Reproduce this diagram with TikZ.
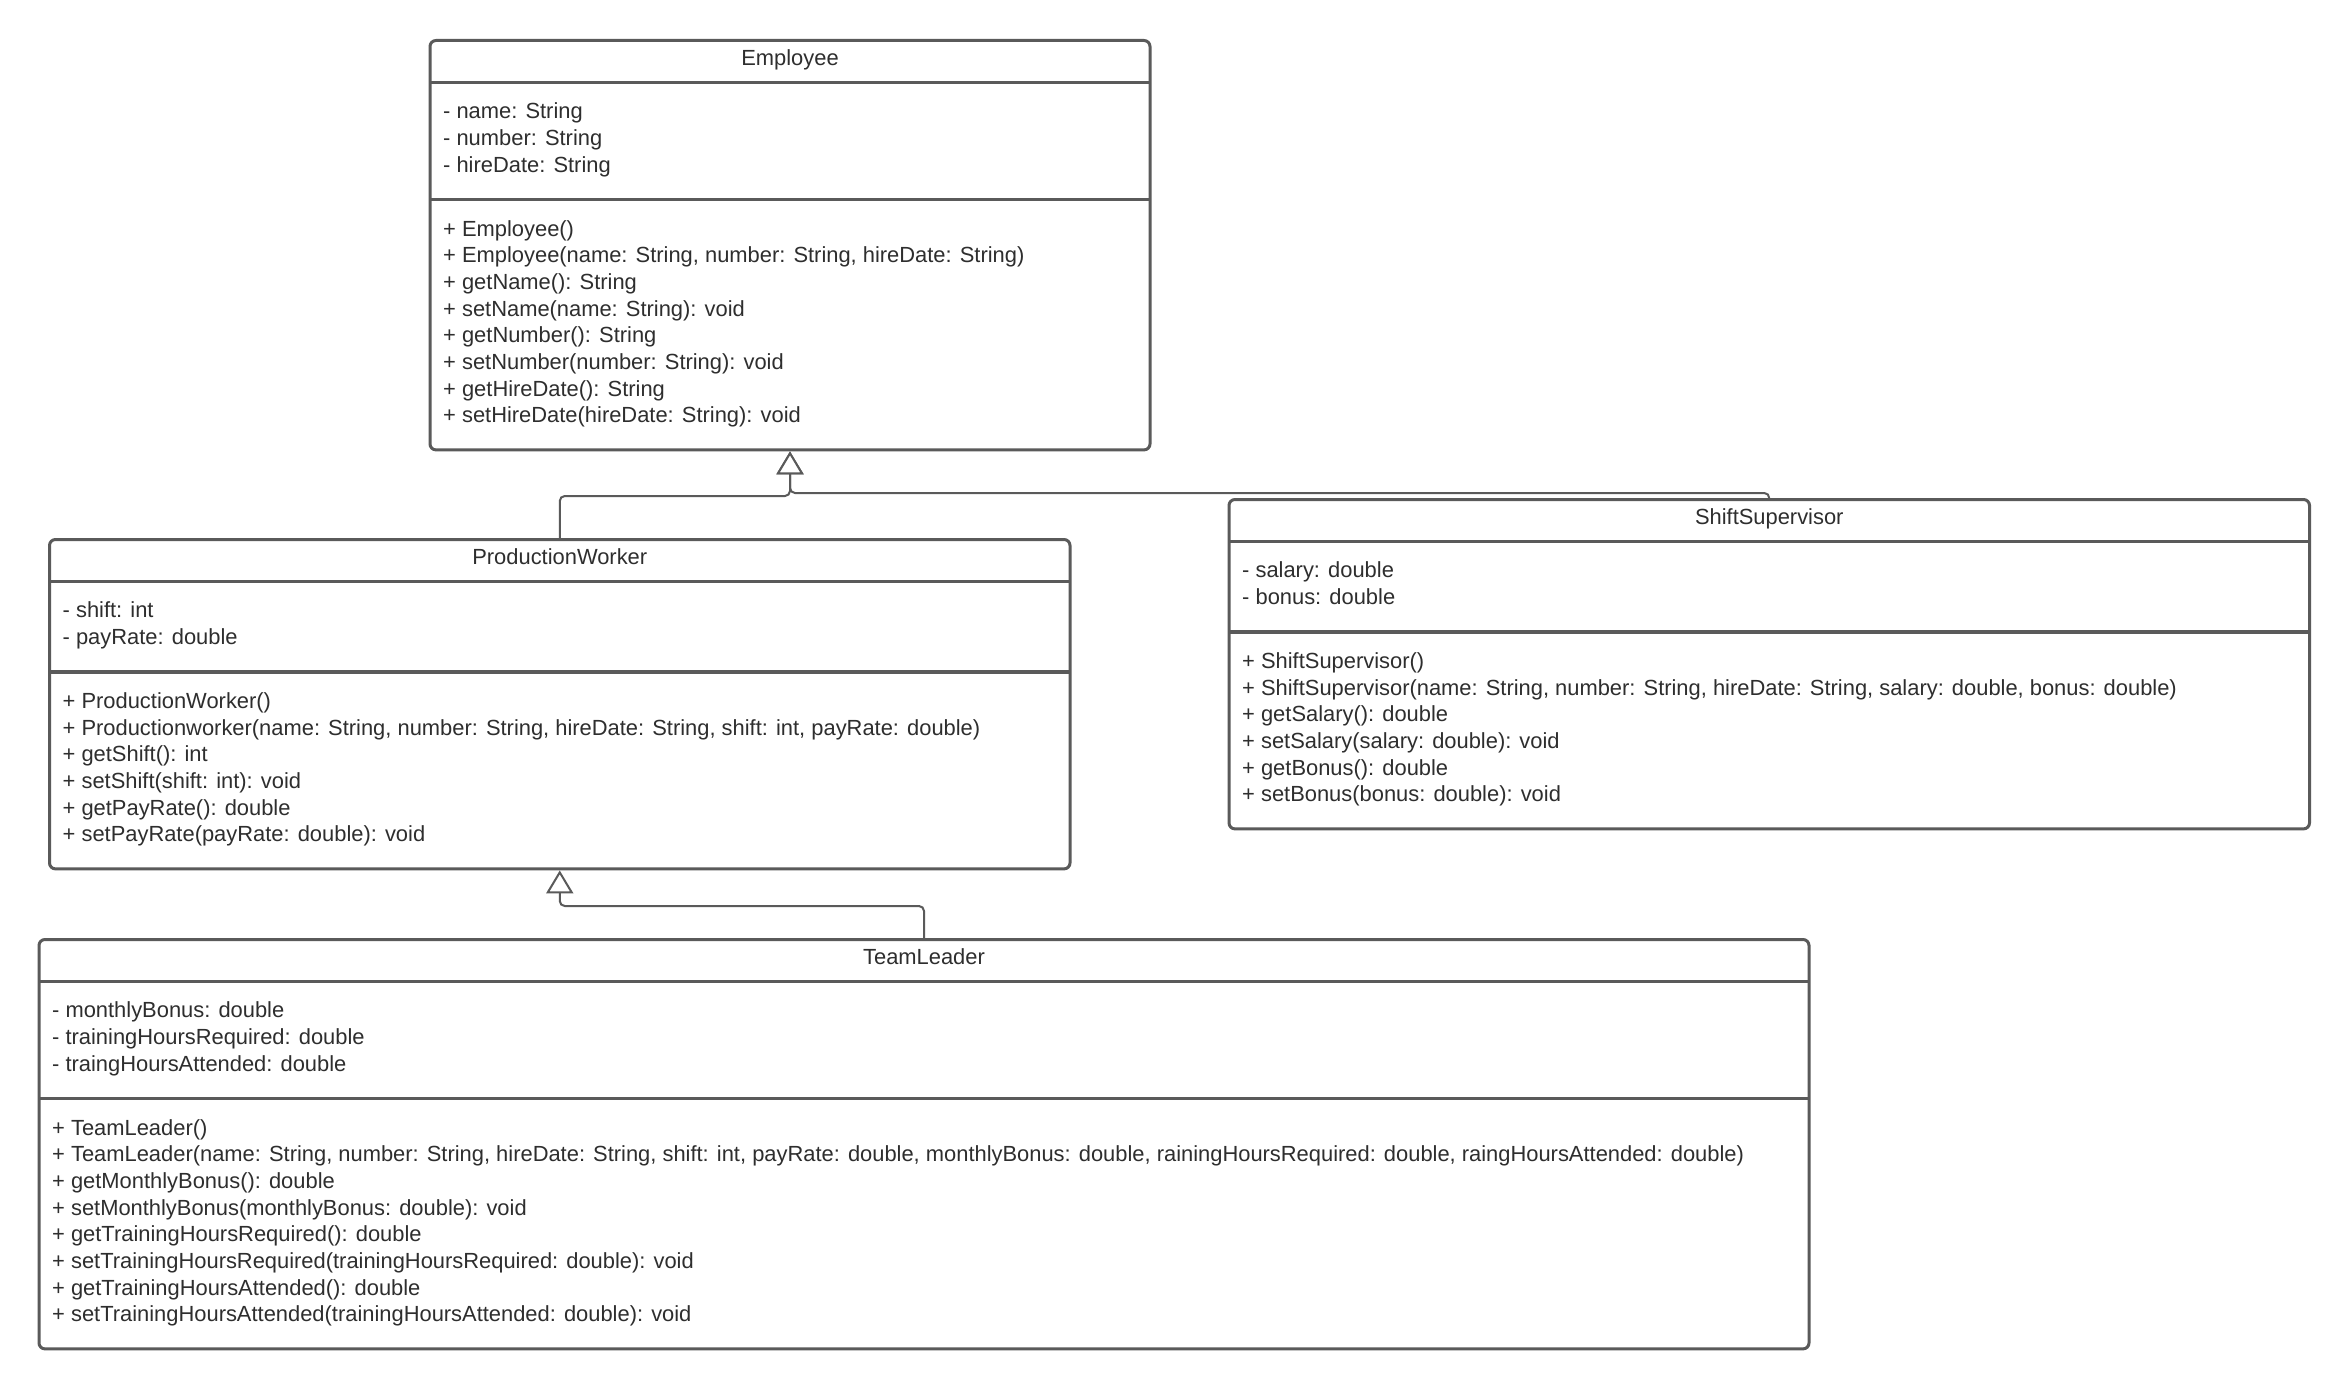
\documentclass[tikz,border=0pt]{standalone}
\usepackage{fontspec}
\setmainfont{Liberation Sans}
\usetikzlibrary{arrows.meta,fit}
\definecolor{umlline}{HTML}{5A5A5A}
\definecolor{umltext}{HTML}{2E2E2E}
\begin{document}
\begin{tikzpicture}[x=1pt,y=-1pt,
  classbox/.style={draw=umlline, line width=3pt, rounded corners=6pt, inner sep=0pt},
  divider/.style={draw=umlline, line width=3.5pt},
  classtitle/.style={anchor=base, inner sep=0pt, text=umltext, font=\fontsize{21.9}{26.67}\selectfont},
  member/.style={anchor=base west, inner sep=0pt, text=umltext, font=\fontsize{21.9}{26.67}\selectfont},
  generalization/.style={draw=umlline, line width=2pt, rounded corners=5pt,
    -{Triangle[open, width=27pt, length=23pt, fill=white]}}]

\fill[white] (0,0) rectangle (2350,1391);
\useasboundingbox (0,0) rectangle (2350,1391);

% ---------------- Employee ----------------
\node[classbox, fit={(430,40.5) (1150,449.9)}] (emp) {};
\draw[divider] (430,82.5) -- (1150,82.5);
\draw[divider] (430,199.5) -- (1150,199.5);
\node[classtitle] (emp-t) at (790,65.5) {Employee};
\foreach \t [count=\i] in {- name: String, - number: String, - hireDate: String}
  \node[member] (emp-a\i) at (443,{118.7+(\i-1)*26.67}) {\t};
\foreach \t [count=\i] in {+ Employee(),
    {+ Employee(name: String, number: String, hireDate: String)},
    + getName(): String,
    + setName(name: String): void,
    + getNumber(): String,
    + setNumber(number: String): void,
    + getHireDate(): String,
    + setHireDate(hireDate: String): void}
  \node[member] (emp-m\i) at (443,{236.2+(\i-1)*26.67}) {\t};

% ---------------- ProductionWorker ----------------
\node[classbox, fit={(49.5,539.5) (1070,868.9)}] (pw) {};
\draw[divider] (49.5,581.5) -- (1070,581.5);
\draw[divider] (49.5,671.9) -- (1070,671.9);
\node[classtitle] (pw-t) at (559.75,564.5) {ProductionWorker};
\foreach \t [count=\i] in {- shift: int, - payRate: double}
  \node[member] (pw-a\i) at (62.5,{617.7+(\i-1)*26.67}) {\t};
\foreach \t [count=\i] in {+ ProductionWorker(),
    {+ Productionworker(name: String, number: String, hireDate: String, shift: int, payRate: double)},
    + getShift(): int,
    + setShift(shift: int): void,
    + getPayRate(): double,
    + setPayRate(payRate: double): void}
  \node[member] (pw-m\i) at (62.5,{708.6+(\i-1)*26.67}) {\t};

% ---------------- ShiftSupervisor ----------------
\node[classbox, fit={(1229,499.5) (2309.5,828.9)}] (ss) {};
\draw[divider] (1229,541.5) -- (2309.5,541.5);
\draw[divider] (1229,631.9) -- (2309.5,631.9);
\node[classtitle] (ss-t) at (1769.25,524.5) {ShiftSupervisor};
\foreach \t [count=\i] in {- salary: double, - bonus: double}
  \node[member] (ss-a\i) at (1242,{577.7+(\i-1)*26.67}) {\t};
\foreach \t [count=\i] in {+ ShiftSupervisor(),
    {+ ShiftSupervisor(name: String, number: String, hireDate: String, salary: double, bonus: double)},
    + getSalary(): double,
    + setSalary(salary: double): void,
    + getBonus(): double,
    + setBonus(bonus: double): void}
  \node[member] (ss-m\i) at (1242,{668.6+(\i-1)*26.67}) {\t};

% ---------------- TeamLeader ----------------
\node[classbox, fit={(39,939.5) (1809,1348.9)}] (tl) {};
\draw[divider] (39,981.5) -- (1809,981.5);
\draw[divider] (39,1098.5) -- (1809,1098.5);
\node[classtitle] (tl-t) at (924,964.5) {TeamLeader};
\foreach \t [count=\i] in {- monthlyBonus: double, - trainingHoursRequired: double, - traingHoursAttended: double}
  \node[member] (tl-a\i) at (52,{1017.7+(\i-1)*26.67}) {\t};
\foreach \t [count=\i] in {+ TeamLeader(),
    {+ TeamLeader(name: String, number: String, hireDate: String, shift: int, payRate: double, monthlyBonus: double, rainingHoursRequired: double, raingHoursAttended: double)},
    + getMonthlyBonus(): double,
    + setMonthlyBonus(monthlyBonus: double): void,
    + getTrainingHoursRequired(): double,
    + setTrainingHoursRequired(trainingHoursRequired: double): void,
    + getTrainingHoursAttended(): double,
    + setTrainingHoursAttended(trainingHoursAttended: double): void}
  \node[member] (tl-m\i) at (52,{1135.2+(\i-1)*26.67}) {\t};

% ---------------- Generalizations ----------------
\coordinate (pwbend) at (0,496);
\coordinate (ssbend) at (0,493);
\coordinate (tlbend) at (0,906);
\draw[generalization] (pw.north) |- (emp.south |- pwbend) -- (emp.south);
\draw[generalization] (ss.north) |- (emp.south |- ssbend) -- (emp.south);
\draw[generalization] (tl.north) |- (pw.south |- tlbend) -- (pw.south);

\end{tikzpicture}
\end{document}
